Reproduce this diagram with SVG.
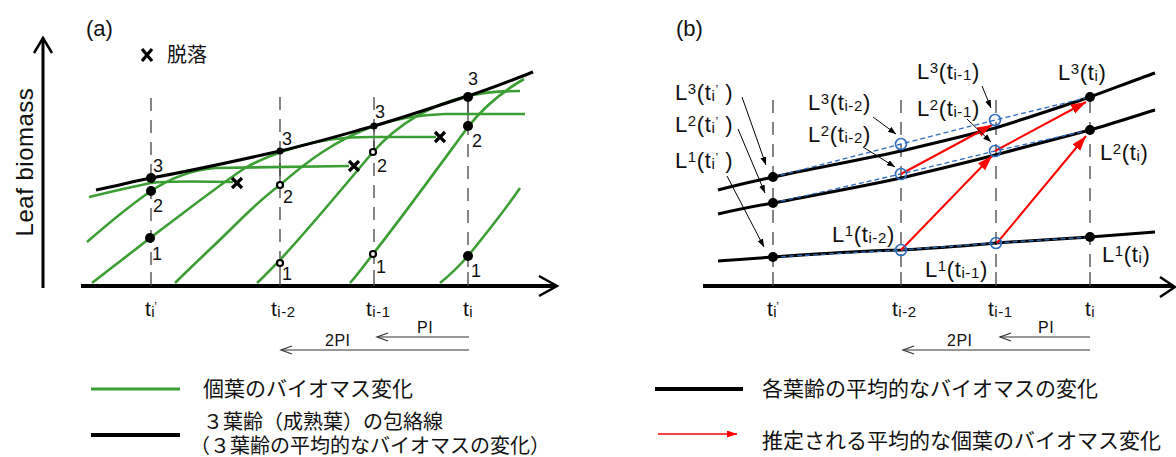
<svg xmlns="http://www.w3.org/2000/svg" width="1176" height="457" viewBox="0 0 1176 457">
<style>
text{font-family:"Liberation Sans",Arial,sans-serif;fill:#111}
.cjk{font-family:"Noto Sans CJK JP","Noto Sans CJK SC",sans-serif;font-size:21px}
.pl{font-size:22px}
.num{font-size:18px}
.tk{font-size:21px;letter-spacing:0.5px}
.lb{font-size:22px;letter-spacing:0.6px}
.sb{font-size:15px}
.pi{font-size:16px;letter-spacing:0.5px}
.ax{stroke:#000;stroke-width:4;fill:none}
.axh{stroke:#000;stroke-width:2.5;fill:none}
.vd{stroke:#444;stroke-width:1.3;stroke-dasharray:13 9;fill:none}
.vs{stroke:#444;stroke-width:1.3;fill:none}
.g{stroke:#3a9e32;stroke-width:2.6;fill:none}
.env{stroke:#000;stroke-width:3;fill:none}
.bd{stroke:#2e6cc0;stroke-width:1.3;stroke-dasharray:5 3;fill:none}
.bc{stroke:#2e6cc0;stroke-width:1.6;fill:none}
.red{stroke:#ff0000;stroke-width:2;fill:none;marker-end:url(#rh)}
.ann{stroke:#000;stroke-width:1;fill:none;marker-end:url(#bh)}
.pa{stroke:#333;stroke-width:1.2;fill:none;marker-end:url(#oh)}
.xm{stroke:#000;stroke-width:3.2;fill:none}
.dot{fill:#000}
.ring{fill:#fff;stroke:#000;stroke-width:2.2}
</style>
<defs>
<marker id="rh" markerUnits="userSpaceOnUse" markerWidth="16" markerHeight="12" refX="15" refY="5" orient="auto"><path d="M0,0 L15,5 L0,10 z" fill="#ff0000"/></marker>
<marker id="rhs" markerUnits="userSpaceOnUse" markerWidth="12" markerHeight="8" refX="10" refY="3.5" orient="auto"><path d="M0,0 L10,3.5 L0,7 z" fill="#ff0000"/></marker>
<marker id="bh" markerUnits="userSpaceOnUse" markerWidth="9" markerHeight="7" refX="8" refY="3" orient="auto"><path d="M0,0 L8,3 L0,6 z" fill="#000"/></marker>
<marker id="oh" markerUnits="userSpaceOnUse" markerWidth="14" markerHeight="10" refX="12" refY="5" orient="auto"><path d="M1,1 L12,5 L1,9" fill="none" stroke="#333" stroke-width="1.2"/></marker>
</defs>

<g id="panel-a">
<text x="86" y="36" class="pl">(a)</text>
<g id="legend-x">
<path class="xm" d="M142,49 L152,61 M152,49 L142,61"/>
<text x="167" y="62" class="cjk" style="font-size:20px">脱落</text>
</g>
<text transform="translate(33,162) rotate(-90)" text-anchor="middle" style="font-size:24px;letter-spacing:0.5px">Leaf biomass</text>
<g id="axes-a">
<path class="ax" d="M43,288 L43,40" style="stroke-width:3"/>
<path class="axh" d="M34,53 L43,38 L52,53"/>
<path class="ax" d="M81,286 L555,286"/>
<path class="axh" d="M539,276 L557,286 L539,296"/>
</g>
<g id="verticals-a">
<path class="vd" d="M151,98 V272 M280,97 V267 M374,97 V270 M468,100 V272"/>
<path class="vs" d="M151,272 V286 M280,267 V286 M374,270 V286 M468,272 V286 M280,151 V185 M374,126 V152 M468,97 V126"/>
</g>
<g id="leaf-curves">
<path class="g" d="M89,197 C110,192 135,186 151,183 C165,181 185,181 233,182"/>
<path class="g" d="M87,242 C110,222 135,202 151,191 C172,177 192,170 215,168 L349,166"/>
<path class="g" d="M92,283 C115,265 135,250 150,238 C185,212 215,188 245,168 C262,158 280,152 300,146 C320,140 340,137 370,137 L436,137"/>
<path class="g" d="M175,283 C195,263 215,245 233,227 C250,210 265,196 280,185 C305,163 335,140 374,126 C395,119 415,115 445,114 L525,114"/>
<path class="g" d="M257,283 C265,276 272,268 278,262 C310,228 345,185 373,152 C398,124 430,105 468,96 C485,92 500,91 520,91"/>
<path class="g" d="M350,283 C358,274 366,263 373,254 C400,220 440,165 468,127 C485,105 505,90 524,79"/>
<path class="g" d="M440,283 C450,275 460,265 468,256 C485,235 505,210 520,188"/>
</g>
<g id="envelope">
<path class="env" d="M96,190 C120,185 135,181 151,178 C195,170 240,160 280,151 C315,143 345,134 374,126 C405,117 437,106 468,96 C490,89 512,80 533,72"/>
</g>
<g id="drops">
<path class="xm" d="M232,178 L242,188 M242,178 L232,188"/>
<path class="xm" d="M349,161 L359,171 M359,161 L349,171"/>
<path class="xm" d="M435,132 L445,142 M445,132 L435,142"/>
</g>
<g id="dots-a">
<circle class="dot" cx="151" cy="178" r="5"/>
<circle class="dot" cx="151" cy="191" r="5"/>
<circle class="dot" cx="150" cy="238" r="5"/>
<circle class="dot" cx="280" cy="151" r="3.5"/>
<circle class="ring" cx="280" cy="185" r="3"/>
<circle class="ring" cx="280" cy="263" r="3"/>
<circle class="dot" cx="374" cy="126" r="3.5"/>
<circle class="ring" cx="373" cy="152" r="3"/>
<circle class="ring" cx="373" cy="254" r="3"/>
<circle class="dot" cx="468" cy="97" r="5"/>
<circle class="dot" cx="468" cy="126" r="5"/>
<circle class="dot" cx="468" cy="256" r="5"/>
</g>
<g id="nums-a">
<text x="153" y="172" class="num">3</text>
<text x="153" y="212" class="num">2</text>
<text x="152" y="260" class="num">1</text>
<text x="282" y="145" class="num">3</text>
<text x="283" y="203" class="num">2</text>
<text x="282" y="280" class="num">1</text>
<text x="375" y="118" class="num">3</text>
<text x="377" y="172" class="num">2</text>
<text x="376" y="273" class="num">1</text>
<text x="468" y="85" class="num">3</text>
<text x="472" y="147" class="num">2</text>
<text x="471" y="277" class="num">1</text>
</g>
<g id="ticks-a">
<text x="145" y="316" class="tk">t<tspan class="sb" dy="1">i</tspan><tspan class="sb" dx="-1" dy="-6" style="font-size:12px">’</tspan></text>
<text x="271" y="316" class="tk">t<tspan class="sb" dy="1">i-2</tspan></text>
<text x="366" y="316" class="tk">t<tspan class="sb" dy="1">i-1</tspan></text>
<text x="463" y="316" class="tk">t<tspan class="sb" dy="1">i</tspan></text>
</g>
<g id="pi-a">
<path class="pa" d="M469,337 L377,337"/>
<path class="pa" d="M469,350 L281,350"/>
<text x="417" y="333" class="pi">PI</text>
<text x="325" y="346" class="pi">2PI</text>
</g>
<g id="legend-a">
<path class="g" d="M91,389 H180" style="stroke-width:3"/>
<text x="203" y="396" class="cjk">個葉のバイオマス変化</text>
<path class="env" d="M91,435 H180" style="stroke-width:4"/>
<text x="203" y="429" class="cjk" style="font-size:20px">３葉齢（成熟葉）の包絡線</text>
<text x="190" y="453" class="cjk" style="font-size:20px">（３葉齢の平均的なバイオマスの変化）</text>
</g>
</g>

<g id="panel-b">
<text x="676" y="36" class="pl">(b)</text>
<g id="axes-b">
<path class="ax" d="M703,286 L1173,286"/>
<path class="axh" d="M1160,277 L1175,287 L1160,297"/>
</g>
<g id="verticals-b">
<path class="vd" d="M773,100 V272 M901,100 V272 M996,100 V272 M1090,100 V272"/>
<path class="vs" d="M773,272 V286 M901,272 V286 M996,272 V286 M1090,272 V286"/>
</g>
<g id="age-lines">
<path class="env" d="M718,190 C740,184 755,181 773,177 C815,168 860,160 901,151 C935,143 965,136 995,128 C1028,118 1060,107 1090,97 C1112,89 1135,80 1155,73"/>
<path class="env" d="M718,214 C740,209 755,206 773,203 C815,195 860,187 901,178 C935,170 965,163 995,155 C1028,146 1060,138 1090,130 C1112,124 1135,116 1155,110"/>
<path class="env" d="M718,261 L773,257 C815,254 860,251 901,250 C935,248 965,246 995,243 C1028,241 1060,239 1090,237 L1155,232"/>
</g>
<g id="blue-dashed">
<path class="bd" d="M773,177 L901,144 L995,120 L1090,97"/>
<path class="bd" d="M773,203 L901,174 L995,151 L1090,130"/>
<path class="bd" d="M773,257 L901,250 L996,243 L1090,237"/>
</g>
<g id="red-arrows">
<path class="red" d="M901,174 L992,125"/>
<path class="red" d="M901,250 L992,156"/>
<path class="red" d="M995,151 L1086,102"/>
<path class="red" d="M997,243 L1086,136"/>
</g>
<g id="dots-b">
<circle class="dot" cx="773" cy="177" r="5"/>
<circle class="dot" cx="773" cy="203" r="5"/>
<circle class="dot" cx="773" cy="257" r="5"/>
<circle class="dot" cx="1090" cy="97" r="5"/>
<circle class="dot" cx="1090" cy="130" r="5"/>
<circle class="dot" cx="1090" cy="237" r="5"/>
<circle class="bc" cx="901" cy="144" r="5.5"/>
<circle class="bc" cx="901" cy="174" r="5.5"/>
<circle class="bc" cx="901" cy="250" r="5.5"/>
<circle class="bc" cx="995" cy="120" r="5.5"/>
<circle class="bc" cx="995" cy="151" r="5.5"/>
<circle class="bc" cx="996" cy="243" r="5.5"/>
</g>
<g id="annot-arrows">
<path class="ann" d="M742,97 L766,165"/>
<path class="ann" d="M738,129 L765,193"/>
<path class="ann" d="M727,176 L764,247"/>
<path class="ann" d="M873,117 L896,134"/>
<path class="ann" d="M863,147 L895,167"/>
<path class="ann" d="M982,86 L991,108"/>
<path class="ann" d="M967,119 L991,142"/>
</g>
<g id="labels-b">
<text x="675" y="100" class="lb">L<tspan class="sb" dy="-6">3</tspan><tspan dy="6">(t</tspan><tspan class="sb" dy="1">i</tspan><tspan class="sb" dy="-7" style="font-size:12px">’</tspan><tspan dy="6"> )</tspan></text>
<text x="675" y="132" class="lb">L<tspan class="sb" dy="-6">2</tspan><tspan dy="6">(t</tspan><tspan class="sb" dy="1">i</tspan><tspan class="sb" dy="-7" style="font-size:12px">’</tspan><tspan dy="6"> )</tspan></text>
<text x="675" y="168" class="lb">L<tspan class="sb" dy="-6">1</tspan><tspan dy="6">(t</tspan><tspan class="sb" dy="1">i</tspan><tspan class="sb" dy="-7" style="font-size:12px">’</tspan><tspan dy="6"> )</tspan></text>
<text x="808" y="110" class="lb">L<tspan class="sb" dy="-6">3</tspan><tspan dy="6">(t</tspan><tspan class="sb" dy="1">i-2</tspan><tspan dy="-1">)</tspan></text>
<text x="808" y="142" class="lb">L<tspan class="sb" dy="-6">2</tspan><tspan dy="6">(t</tspan><tspan class="sb" dy="1">i-2</tspan><tspan dy="-1">)</tspan></text>
<text x="832" y="242" class="lb">L<tspan class="sb" dy="-6">1</tspan><tspan dy="6">(t</tspan><tspan class="sb" dy="1">i-2</tspan><tspan dy="-1">)</tspan></text>
<text x="917" y="79" class="lb">L<tspan class="sb" dy="-6">3</tspan><tspan dy="6">(t</tspan><tspan class="sb" dy="1">i-1</tspan><tspan dy="-1">)</tspan></text>
<text x="917" y="116" class="lb">L<tspan class="sb" dy="-6">2</tspan><tspan dy="6">(t</tspan><tspan class="sb" dy="1">i-1</tspan><tspan dy="-1">)</tspan></text>
<text x="925" y="277" class="lb">L<tspan class="sb" dy="-6">1</tspan><tspan dy="6">(t</tspan><tspan class="sb" dy="1">i-1</tspan><tspan dy="-1">)</tspan></text>
<text x="1058" y="80" class="lb">L<tspan class="sb" dy="-6">3</tspan><tspan dy="6">(t</tspan><tspan class="sb" dy="1">i</tspan><tspan dy="-1">)</tspan></text>
<text x="1100" y="160" class="lb">L<tspan class="sb" dy="-6">2</tspan><tspan dy="6">(t</tspan><tspan class="sb" dy="1">i</tspan><tspan dy="-1">)</tspan></text>
<text x="1102" y="262" class="lb">L<tspan class="sb" dy="-6">1</tspan><tspan dy="6">(t</tspan><tspan class="sb" dy="1">i</tspan><tspan dy="-1">)</tspan></text>
</g>
<g id="ticks-b">
<text x="767" y="316" class="tk">t<tspan class="sb" dy="1">i</tspan><tspan class="sb" dx="-1" dy="-6" style="font-size:12px">’</tspan></text>
<text x="892" y="316" class="tk">t<tspan class="sb" dy="1">i-2</tspan></text>
<text x="988" y="316" class="tk">t<tspan class="sb" dy="1">i-1</tspan></text>
<text x="1085" y="316" class="tk">t<tspan class="sb" dy="1">i</tspan></text>
</g>
<g id="pi-b">
<path class="pa" d="M1090,337 L1000,337"/>
<path class="pa" d="M1090,350 L903,350"/>
<text x="1038" y="333" class="pi">PI</text>
<text x="947" y="346" class="pi">2PI</text>
</g>
<g id="legend-b">
<path class="env" d="M655,389 H743" style="stroke-width:4"/>
<text x="762" y="396" class="cjk">各葉齢の平均的なバイオマスの変化</text>
<path d="M658,434 L737,434" style="stroke:#ff0000;stroke-width:1.5;fill:none;marker-end:url(#rhs)"/>
<text x="762" y="448" class="cjk">推定される平均的な個葉のバイオマス変化</text>
</g>
</g>
</svg>
